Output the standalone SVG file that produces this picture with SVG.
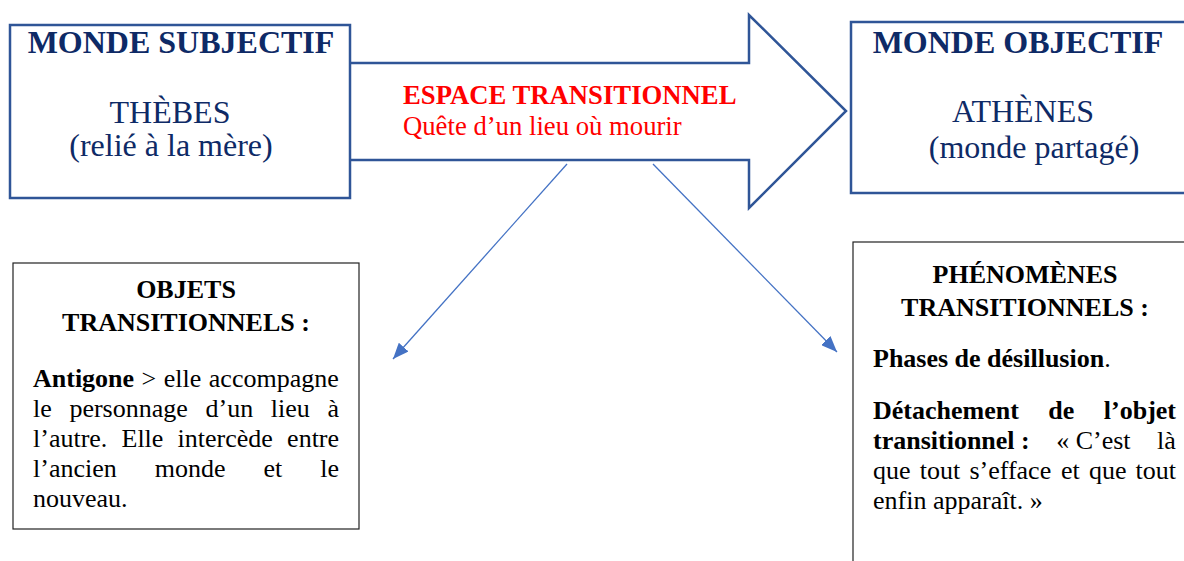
<svg xmlns="http://www.w3.org/2000/svg" width="1184" height="561" viewBox="0 0 1184 561">
<defs>
<style>
.bx{fill:#fff;stroke:#2F5597;stroke-width:2.5}
.bk{fill:#fff;stroke:#222;stroke-width:1.2}
.t{font-family:"Liberation Serif","Times New Roman",serif}
.navy{fill:#0E2A66}
.red{fill:#FF0000}
.blk{fill:#000}
.h32{font-size:32px}
.s26{font-size:26px}
.b{font-weight:bold}
.con{stroke:#4472C4;stroke-width:1.3;fill:none;marker-end:url(#ah)}
</style>
<marker id="ah" viewBox="0 0 16 13" refX="16" refY="6.5" markerWidth="16" markerHeight="13" markerUnits="userSpaceOnUse" orient="auto">
<path d="M0,0 L16,6.5 L0,13 Z" fill="#4472C4"/>
</marker>
</defs>
<rect width="1184" height="561" fill="#fff"/>

<g id="arrow-espace">
<polygon class="bx" points="349,63 749,63 749,15 846,111 749,208 749,160 349,160" stroke-linejoin="miter"/>
<text class="t red b" x="403" y="104" font-size="26.7">ESPACE TRANSITIONNEL</text>
<text class="t red" x="403" y="135" font-size="26.7">Quête d’un lieu où mourir</text>
</g>

<g id="monde-subjectif">
<rect class="bx" x="10" y="25" width="340" height="173"/>
<text class="t navy b h32" x="181" y="53" text-anchor="middle">MONDE SUBJECTIF</text>
<text class="t navy h32" x="170" y="123" text-anchor="middle">THÈBES</text>
<text class="t navy h32" x="171" y="156" text-anchor="middle">(relié à la mère)</text>
</g>

<g id="monde-objectif">
<rect class="bx" x="851" y="22" width="360" height="171"/>
<text class="t navy b h32" x="1018" y="53" text-anchor="middle">MONDE OBJECTIF</text>
<text class="t navy h32" x="1023" y="122" text-anchor="middle">ATHÈNES</text>
<text class="t navy h32" x="1034" y="158" text-anchor="middle">(monde partagé)</text>
</g>

<g id="connecteurs">
<line class="con" x1="567" y1="164" x2="393" y2="359"/>
<line class="con" x1="653" y1="164" x2="837" y2="352"/>
</g>

<g id="objets-transitionnels">
<rect class="bk" x="13" y="263" width="346" height="266"/>
<text class="t blk b s26" x="186" y="298" text-anchor="middle">OBJETS</text>
<text class="t blk b s26" x="186" y="331" text-anchor="middle">TRANSITIONNELS :</text>
<text class="t blk s26" y="387"><tspan class="b" x="33">Antigone</tspan><tspan x="141.6">&gt;</tspan><tspan x="163.8">elle</tspan><tspan x="208.8">accompagne</tspan></text>
<text class="t blk s26" y="417"><tspan x="33">le</tspan><tspan x="69.4">personnage</tspan><tspan x="205.5">d’un</tspan><tspan x="270.8">lieu</tspan><tspan x="327.5">à</tspan></text>
<text class="t blk s26" y="447"><tspan x="33">l’autre.</tspan><tspan x="121.5">Elle</tspan><tspan x="177.6">intercède</tspan><tspan x="287.1">entre</tspan></text>
<text class="t blk s26" y="477"><tspan x="33">l’ancien</tspan><tspan x="154.7">monde</tspan><tspan x="263.5">et</tspan><tspan x="320.3">le</tspan></text>
<text class="t blk s26" x="33" y="507">nouveau.</text>
</g>

<g id="phenomenes-transitionnels">
<rect class="bk" x="853" y="242" width="400" height="400"/>
<text class="t blk b s26" x="1025" y="283" text-anchor="middle">PHÉNOMÈNES</text>
<text class="t blk b s26" x="1025" y="316" text-anchor="middle">TRANSITIONNELS :</text>
<text class="t blk s26" x="873" y="367"><tspan class="b">Phases de désillusion</tspan>.</text>
<text class="t blk b s26" y="419"><tspan x="873">Détachement</tspan><tspan x="1048.3">de</tspan><tspan x="1103.8">l’objet</tspan></text>
<text class="t blk s26" y="449"><tspan class="b" x="873">transitionnel :</tspan><tspan x="1056.2">« C’est</tspan><tspan x="1157.1">là</tspan></text>
<text class="t blk s26" y="479"><tspan x="873">que</tspan><tspan x="919.7">tout</tspan><tspan x="969.4">s’efface</tspan><tspan x="1060.9">et</tspan><tspan x="1088.9">que</tspan><tspan x="1135.6">tout</tspan></text>
<text class="t blk s26" x="873" y="509">enfin apparaît. »</text>
</g>
</svg>
